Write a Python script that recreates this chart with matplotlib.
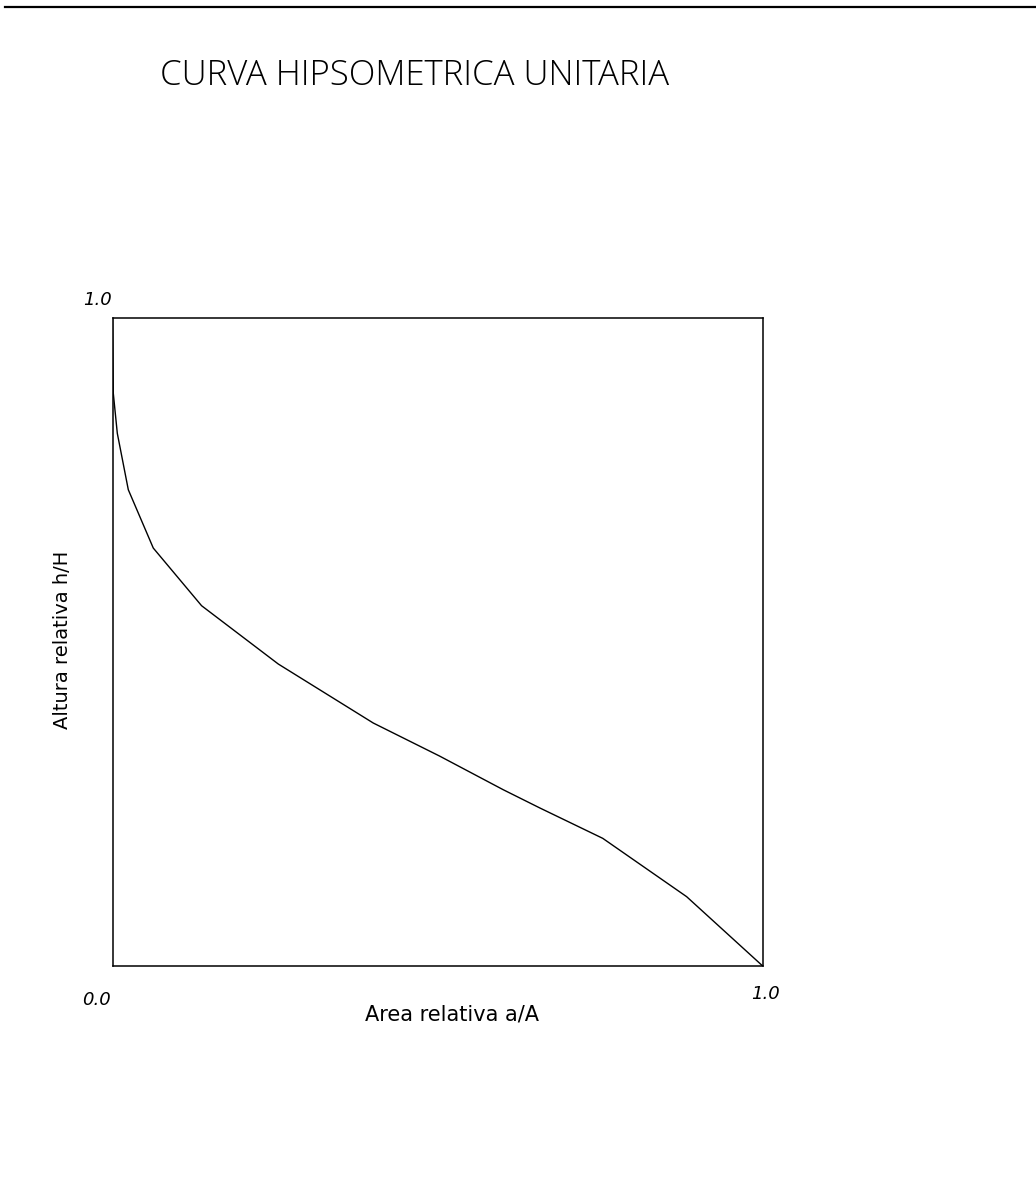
import matplotlib.pyplot as plt
from matplotlib.lines import Line2D

# relative area a/A and relative height h/H
area_rel = [0.0, 0.0012, 0.0074, 0.0243, 0.0627, 0.137, 0.255, 0.401,
            0.503, 0.601, 0.657, 0.754, 0.883, 1.0]
height_rel = [1.0, 0.884, 0.822, 0.735, 0.645, 0.556, 0.466, 0.375,
              0.324, 0.272, 0.244, 0.197, 0.107, 0.0]

title = "CURVA HIPSOMETRICA UNITARIA"
xlabel = "Area relativa a/A"
ylabel = "Altura relativa h/H"

W, H = 1036, 1187


def px(x, y):
    return x / W, 1 - y / H


def main():
    fig = plt.figure(figsize=(W / 100, H / 100), dpi=100)
    ax = fig.add_axes([112.5 / W, (H - 966) / H, 650.2 / W, 648 / H])
    ax.plot(area_rel, height_rel, color="black", lw=1.0)
    ax.set_xlim(0, 1)
    ax.set_ylim(0, 1)
    ax.set_xticks([])
    ax.set_yticks([])
    for s in ax.spines.values():
        s.set_linewidth(1.1)

    # scanned page border line at the top
    fig.add_artist(Line2D([5 / W, 1.0], [1 - 7 / H, 1 - 7 / H],
                          color="black", lw=1.6, transform=fig.transFigure))

    fig.text(*px(415, 76), title, fontsize=25, ha="center", va="center",
             family="Open Sans", fontweight="light", color="black")
    fig.text(*px(97, 300), "1.0", fontsize=13, ha="center", va="center", style="italic")
    fig.text(*px(96, 1000), "0.0", fontsize=13, ha="center", va="center", style="italic")
    fig.text(*px(766, 994), "1.0", fontsize=13, ha="center", va="center", style="italic")
    fig.text(*px(452, 1015), xlabel, fontsize=15, ha="center", va="center")
    fig.text(*px(63, 640), ylabel, fontsize=14, ha="center", va="center", rotation=90)

    fig.savefig("out.png", dpi=100)


if __name__ == '__main__':
    main()
